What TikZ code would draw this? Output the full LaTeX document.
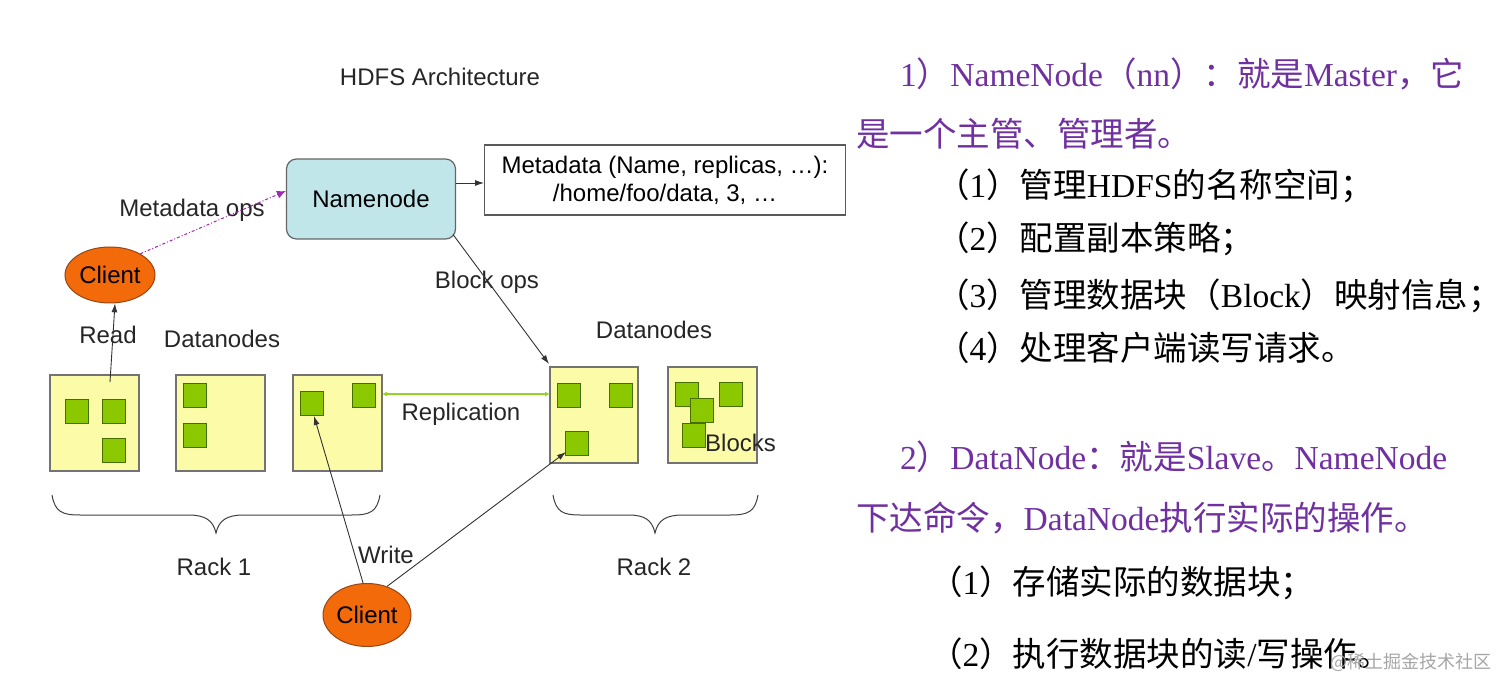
\documentclass[tikz,border=0pt]{standalone}
\usepackage{fontspec}
\setmainfont{Liberation Serif}
\newfontfamily\arialf{Liberation Sans}
\newfontfamily\cjk{Noto Sans CJK SC}
\usetikzlibrary{arrows.meta,shapes.geometric,decorations.pathreplacing}
\definecolor{nncyan}{RGB}{192,230,234}
\definecolor{rackyel}{RGB}{252,252,168}
\definecolor{blkgreen}{RGB}{140,200,0}
\definecolor{blkedge}{RGB}{70,110,0}
\definecolor{clorange}{RGB}{243,106,10}
\definecolor{cledge}{RGB}{150,70,20}
\definecolor{opspurple}{RGB}{160,40,180}
\definecolor{txtpurple}{RGB}{112,48,160}
\definecolor{repgreen}{RGB}{150,210,40}
\tikzset{
  lbl/.style={font=\arialf\fontsize{24}{28}\selectfont, text=black!85, inner sep=0pt},
  rackbox/.style={draw=black!55, fill=rackyel, line width=1.2pt},
  blk/.style={draw=blkedge, fill=blkgreen, line width=1pt},
  clientnode/.style={ellipse, draw=cledge, fill=clorange, line width=1pt, minimum width=90pt, minimum height=56pt, inner sep=0pt, font=\arialf\fontsize{24}{28}\selectfont},
  conn/.style={draw=black!80, line width=0.9pt, -{Latex[length=9pt,width=6pt]}},
  pline/.style={font=\fontsize{33.5}{38}\selectfont, anchor=base west, inner sep=0pt},
}
\newcommand{\blkat}[2]{\draw[blk] (#1,#2) rectangle ++(23,24);}
\begin{document}
\begin{tikzpicture}[x=1pt,y=-1pt]
\useasboundingbox (0,0) rectangle (1512,692);
\fill[white] (0,0) rectangle (1512,692);

% title
\node[lbl] (title) at (440,77) {HDFS Architecture};

% namenode and metadata
\node[draw=black!60, fill=nncyan, rounded corners=10pt, line width=1.2pt, minimum width=169pt, minimum height=80pt, font=\arialf\fontsize{24}{28}\selectfont, inner sep=0pt] (nn) at (371,199) {Namenode};
\node[draw=black!65, line width=1.2pt, minimum width=361pt, minimum height=70pt, align=center, font=\arialf\fontsize{24}{28}\selectfont, inner sep=0pt] (meta) at (665,180) {Metadata (Name, replicas, \dots):\\/home/foo/data, 3, \dots};
\coordinate (nnr) at (456,183);
\coordinate (metal) at (484,183);
\draw[conn] (nnr) -- (metal);

% clients
\node[clientnode] (c1) at (110,275) {Client};
\node[clientnode, minimum width=88pt, minimum height=63pt] (c2) at (367,615) {Client};

% rack boxes
\draw[rackbox] (50,375) rectangle (139,471);
\draw[rackbox] (176,375) rectangle (265,471);
\draw[rackbox] (293,375) rectangle (382,471);
\draw[rackbox] (550,367) rectangle (638,463);
\draw[rackbox] (668,367) rectangle (757,463);
\coordinate (b1top) at (110,382);
\coordinate (b3r) at (382,394);
\coordinate (b4l) at (550,394);
\coordinate (b4tl) at (549,364);

% blocks
\blkat{65}{399}\blkat{102}{399}\blkat{102}{438}
\blkat{183}{383}\blkat{183}{423}
\blkat{300}{391}\blkat{352}{383}
\blkat{557}{383}\blkat{609}{383}\blkat{565}{431}
\blkat{675}{382}\blkat{690}{398}\blkat{682}{423}\blkat{719}{382}
\coordinate (wblk) at (314,416);
\coordinate (wblk2) at (566,452);

% labels
\node[lbl] (mops) at (192,210) {Metadata ops};
\node[lbl] (bops) at (487,282) {Block ops};
\node[lbl] (read) at (108,335) {Read};
\node[lbl] (dn1) at (222,339) {Datanodes};
\node[lbl] (dn2) at (654,330) {Datanodes};
\node[lbl] (repl) at (461,414) {Replication};
\node[lbl, anchor=west] (blocks) at (705,443) {Blocks};
\node[lbl] (write) at (386,555) {Write};
\node[lbl] (r1) at (214,567) {Rack 1};
\node[lbl] (r2) at (654,567) {Rack 2};

% connectors
\draw[opspurple, line width=1pt, dash pattern=on 3pt off 2pt on 1pt off 2pt, -{Latex[length=9pt,width=8pt]}] (c1.35) -- (nn.west |- 0,191);
\draw[conn] (b1top) -- (c1.280);
\draw[conn] (nn.south east) ++(-3,-5) -- (b4tl);
\draw[repgreen, line width=1.2pt, {Latex[length=5pt,width=5pt]}-{Latex[length=5pt,width=5pt]}] (b3r) -- (b4l);
\draw[conn] (c2.97) -- (wblk);
\draw[conn] (c2.55) -- (wblk2);

% braces
\draw[black!75, line width=1pt] (52,495) .. controls (55,512) and (62,515) .. (80,515) -- (188,515) .. controls (205,515) and (213,520) .. (216,533) .. controls (219,520) and (227,515) .. (244,515) -- (352,515) .. controls (370,515) and (377,512) .. (380,495);
\draw[black!75, line width=1pt] (553,495) .. controls (556,512) and (563,515) .. (580,515) -- (628,515) .. controls (645,515) and (652,520) .. (655,533) .. controls (658,520) and (666,515) .. (683,515) -- (730,515) .. controls (748,515) and (755,512) .. (758,495);

% right-hand text
\node[pline, text=txtpurple] (t1) at (900,87) {1{\cjk ）}NameNode{\cjk （}nn{\cjk ）：就是}Master{\cjk ，它}};
\node[pline, text=txtpurple] (t2) at (856,147) {\cjk 是一个主管、管理者。};
\node[pline] (t3) at (936,198) {{\cjk （}1{\cjk ）管理}HDFS{\cjk 的名称空间；}};
\node[pline] (t4) at (936,251) {{\cjk （}2{\cjk ）配置副本策略；}};
\node[pline] (t5) at (936,308) {{\cjk （}3{\cjk ）管理数据块（}Block{\cjk ）映射信息；}};
\node[pline] (t6) at (936,361) {{\cjk （}4{\cjk ）处理客户端读写请求。}};
\node[pline, text=txtpurple] (t7) at (900,469) {2{\cjk ）}DataNode{\cjk ：就是}Slave{\cjk 。}NameNode};
\node[pline, text=txtpurple] (t8) at (856,530) {{\cjk 下达命令，}DataNode{\cjk 执行实际的操作。}};
\node[pline] (t9) at (929,594) {{\cjk （}1{\cjk ）存储实际的数据块；}};
\node[pline] (t10) at (929,666) {{\cjk （}2{\cjk ）执行数据块的读}/{\cjk 写操作。}};
\node[anchor=base west, inner sep=0pt, text=black!35, font=\cjk\fontsize{18}{20}\selectfont] (wm) at (1330,668) {@稀土掘金技术社区};
\end{tikzpicture}
\end{document}
